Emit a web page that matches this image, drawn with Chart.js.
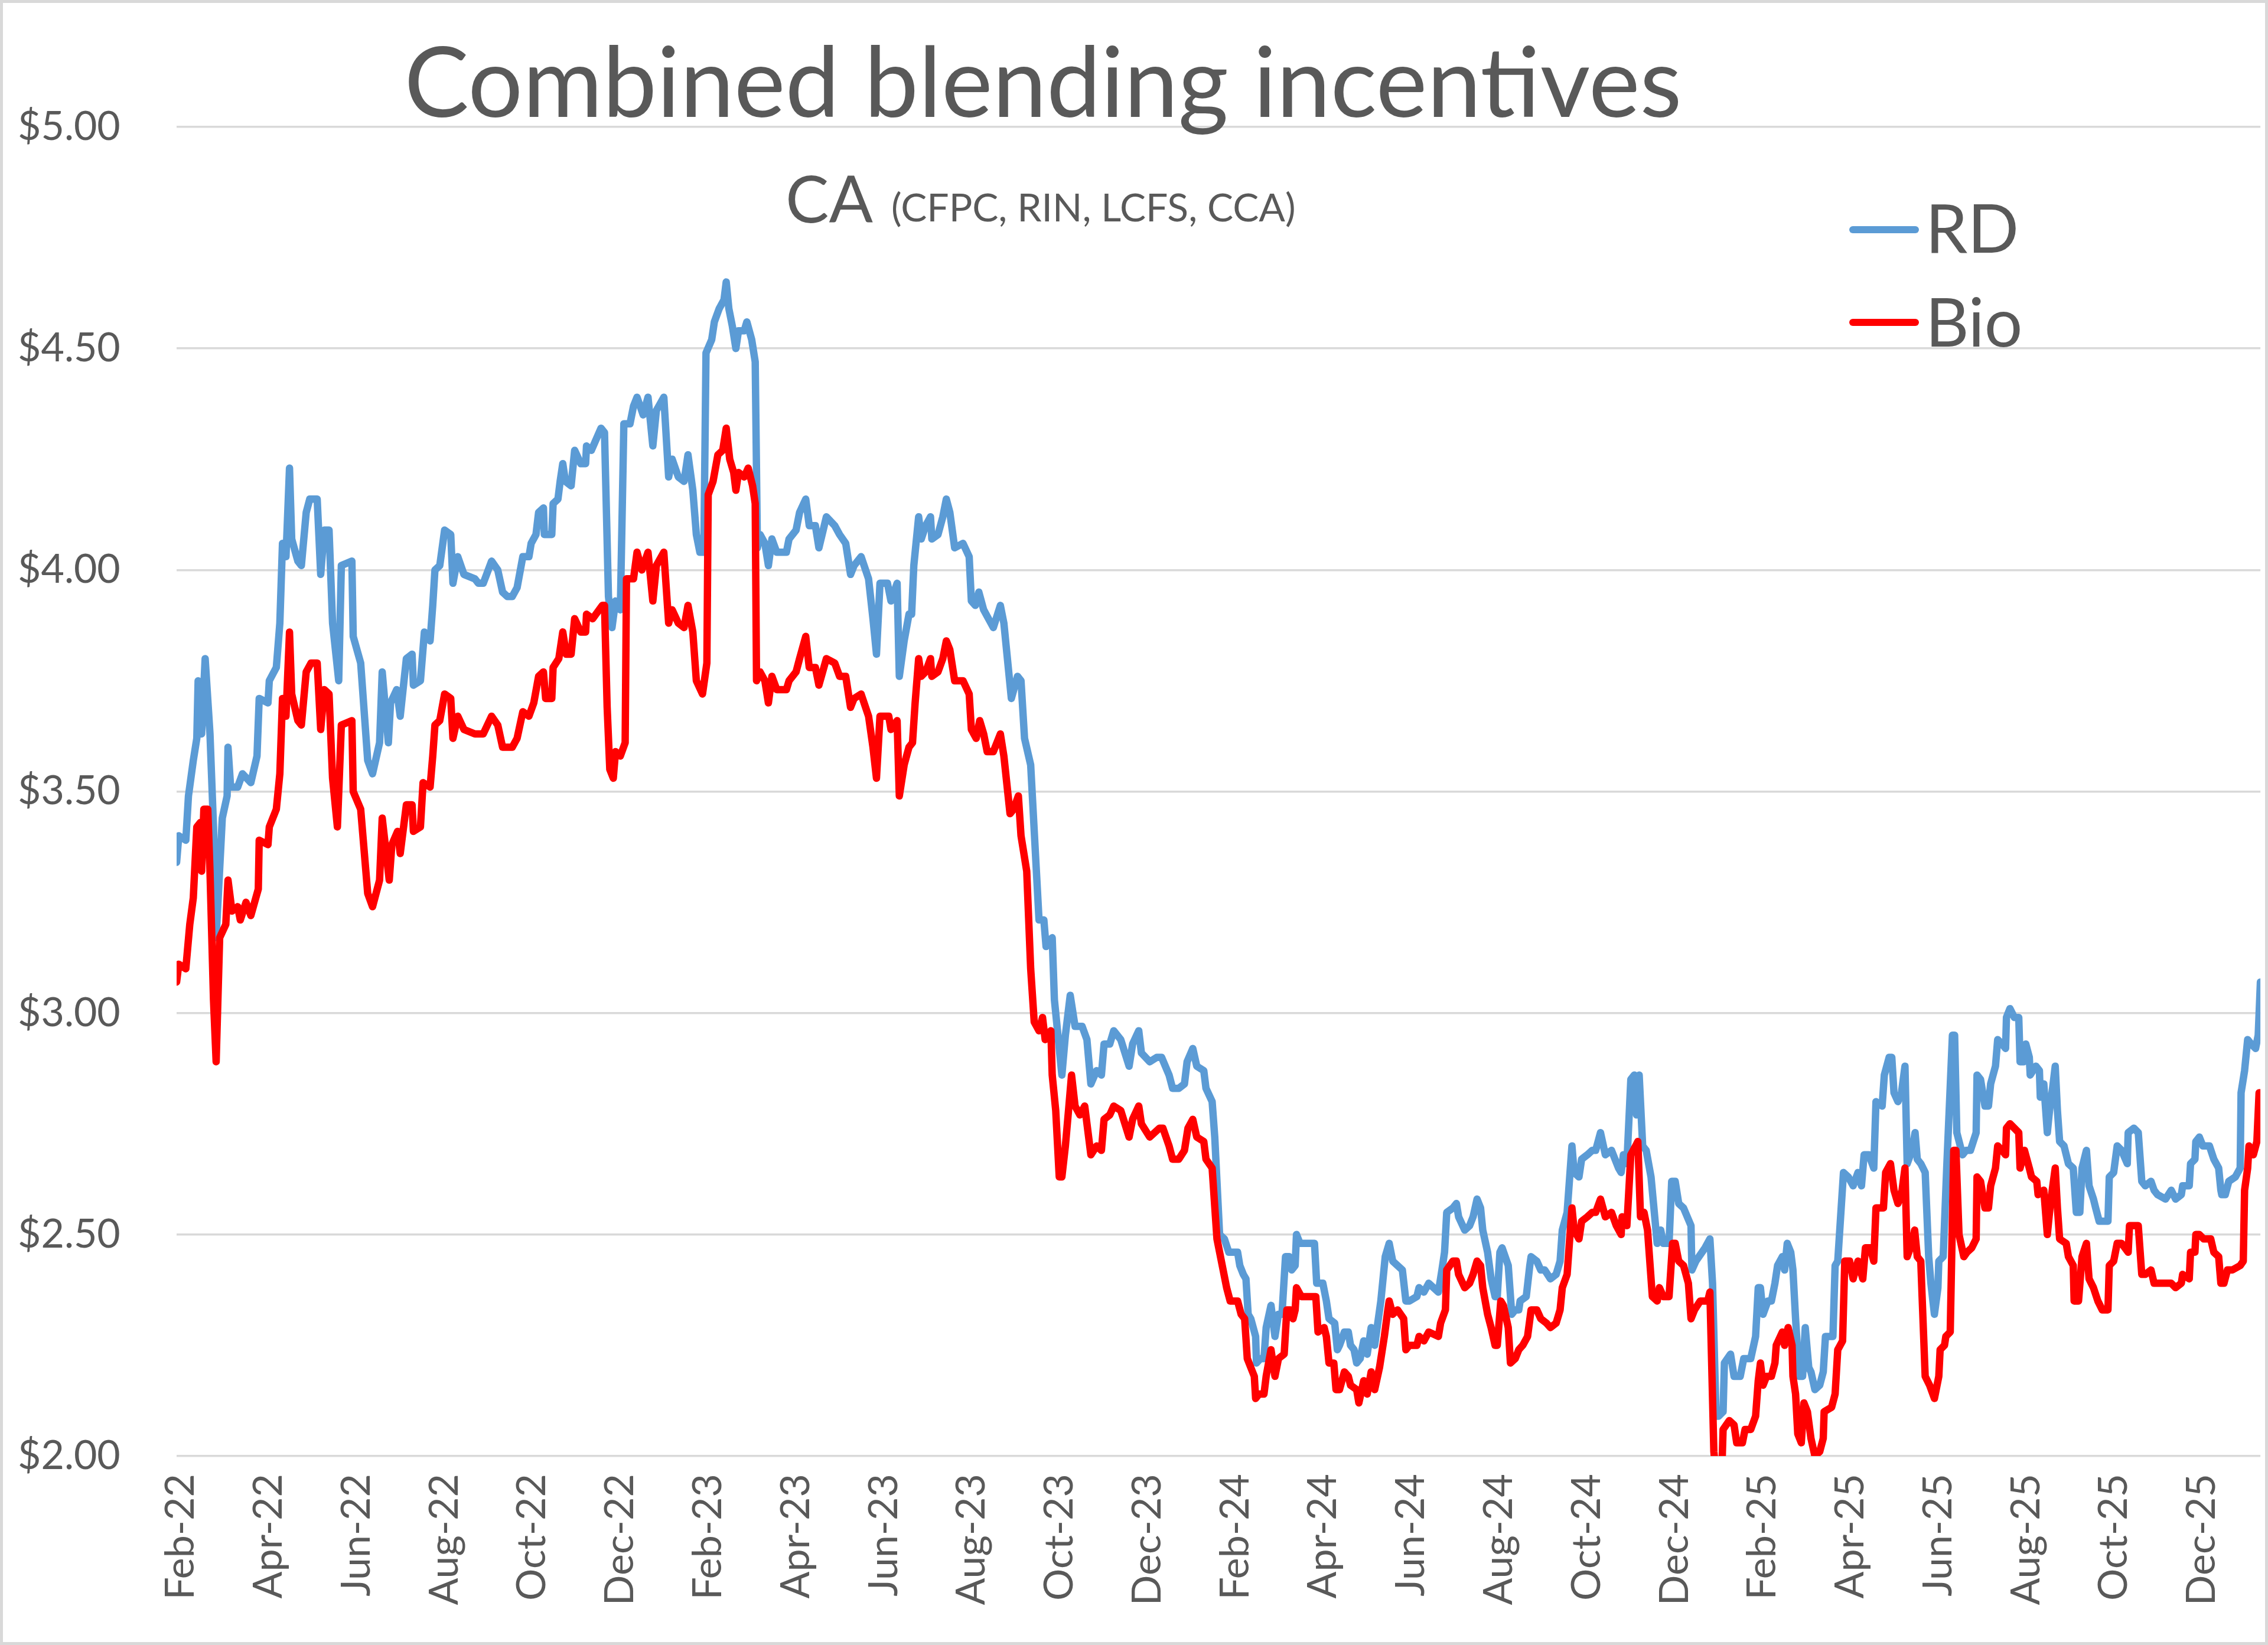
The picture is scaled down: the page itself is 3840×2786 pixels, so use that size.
<!DOCTYPE html>
<html>
<head>
<meta charset="utf-8">
<script src="https://cdn.jsdelivr.net/npm/chart.js@4.4.1/dist/chart.umd.min.js"></script>
<style>
html,body{margin:0;padding:0;background:#ffffff;}
canvas{display:block;}
</style>
</head>
<body>
<canvas id="chart" width="3840" height="2786" style="width:3840px;height:2786px"></canvas>
<script>
// ---- Text ----
const titleText = 'Combined blending incentives';
const subtitleMain = 'CA';
const subtitleSmall = '(CFPC, RIN, LCFS, CCA)';
const seriesNames = ['RD', 'Bio'];

// ---- X axis: months since Feb-2022 ----
const tickMonths = [0,2,4,6,8,10,12,14,16,18,20,22,24,26,28,30,32,34,36,38,40,42,44,46];
const tickLabels = ['Feb-22','Apr-22','Jun-22','Aug-22','Oct-22','Dec-22','Feb-23','Apr-23','Jun-23','Aug-23',
  'Oct-23','Dec-23','Feb-24','Apr-24','Jun-24','Aug-24','Oct-24','Dec-24','Feb-25','Apr-25','Jun-25','Aug-25','Oct-25','Dec-25'];
const yTicks = [2.0,2.5,3.0,3.5,4.0,4.5,5.0];

// ---- RD series ----
const rdMonths = [
-0.1,-0.05,0.11,0.17,0.28,0.36,0.39,0.47,0.55,0.66,
0.74,0.80,0.94,1.05,1.07,1.13,1.29,1.40,1.59,1.73,
1.78,1.98,2.01,2.17,2.25,2.31,2.39,2.47,2.52,2.66,
2.74,2.85,2.93,3.10,3.18,3.26,3.37,3.45,3.59,3.65,
3.89,3.92,4.09,4.25,4.36,4.52,4.58,4.72,4.77,4.91,
4.99,5.13,5.26,5.29,5.45,5.54,5.67,5.73,5.78,5.89,
6.00,6.14,6.19,6.30,6.44,6.69,6.77,6.88,7.07,7.21,
7.32,7.43,7.54,7.65,7.78,7.92,7.97,8.08,8.14,8.25,
8.27,8.44,8.47,8.58,8.63,8.69,8.75,8.88,8.96,9.10,
9.21,9.23,9.34,9.56,9.64,9.73,9.81,9.89,10.00,10.08,
10.22,10.30,10.38,10.52,10.63,10.74,10.82,10.99,11.10,11.18,
11.32,11.45,11.54,11.65,11.73,11.81,11.90,11.95,12.08,12.14,
12.25,12.36,12.41,12.47,12.55,12.63,12.69,12.82,12.88,12.99,
13.07,13.12,13.18,13.29,13.37,13.45,13.56,13.78,13.84,14.00,
14.08,14.22,14.30,14.44,14.52,14.69,14.88,14.99,15.13,15.24,
15.32,15.48,15.65,15.75,15.83,15.91,16.08,16.16,16.30,16.35,
16.46,16.57,16.63,16.68,16.79,16.85,16.95,17.06,17.09,17.23,
17.34,17.42,17.50,17.61,17.80,17.94,17.99,18.08,18.16,18.27,
18.38,18.49,18.65,18.73,18.90,19.04,19.12,19.20,19.34,19.47,
19.53,19.64,19.69,19.83,19.88,20.05,20.13,20.24,20.35,20.51,
20.62,20.71,20.84,20.95,21.01,21.14,21.23,21.39,21.58,21.66,
21.80,21.86,22.05,22.21,22.32,22.49,22.57,22.71,22.84,22.90,
23.03,23.12,23.28,23.33,23.47,23.53,23.64,23.75,23.85,23.96,
24.05,24.10,24.18,24.24,24.29,24.35,24.46,24.48,24.57,24.65,
24.70,24.81,24.90,24.98,25.06,25.14,25.22,25.28,25.36,25.39,
25.47,25.66,25.80,25.85,25.99,26.07,26.13,26.26,26.32,26.37,
26.48,26.57,26.62,26.70,26.76,26.84,26.92,27.00,27.09,27.17,
27.31,27.41,27.50,27.58,27.69,27.80,27.88,27.96,28.13,28.18,
28.29,28.40,28.62,28.70,28.76,28.81,28.95,29.03,29.08,29.22,
29.33,29.41,29.50,29.58,29.63,29.74,29.82,29.91,29.96,30.02,
30.07,30.21,30.29,30.37,30.45,30.48,30.62,30.70,30.73,30.86,
30.95,31.04,31.17,31.30,31.39,31.44,31.55,31.66,31.71,31.82,
31.88,32.01,32.12,32.20,32.31,32.42,32.56,32.64,32.72,32.78,
32.83,32.91,33.00,33.08,33.13,33.19,33.27,33.35,33.46,33.60,
33.68,33.74,33.87,33.93,34.01,34.09,34.20,34.37,34.39,34.48,
34.69,34.80,34.86,34.94,35.00,35.10,35.13,35.27,35.35,35.49,
35.57,35.73,35.84,35.90,35.95,36.01,36.12,36.20,36.28,36.34,
36.45,36.50,36.56,36.64,36.69,36.75,36.83,36.91,36.97,37.05,
37.10,37.19,37.30,37.38,37.43,37.60,37.65,37.71,37.84,37.95,
38.06,38.17,38.25,38.31,38.42,38.53,38.58,38.72,38.77,38.88,
38.94,38.99,39.08,39.16,39.24,39.29,39.40,39.47,39.52,39.60,
39.70,39.78,39.83,39.91,39.99,40.01,40.11,40.19,40.32,40.37,
40.42,40.55,40.63,40.73,40.86,40.88,40.96,41.06,41.14,41.19,
41.30,41.35,41.45,41.53,41.55,41.63,41.73,41.83,41.86,41.94,
41.99,42.07,42.09,42.22,42.30,42.32,42.40,42.48,42.53,42.60,
42.66,42.71,42.76,42.86,42.96,43.07,43.14,43.22,43.27,43.37,
43.43,43.53,43.58,43.66,43.76,43.86,43.89,43.99,44.07,44.17,
44.30,44.32,44.45,44.55,44.63,44.71,44.84,44.91,44.99,45.17,
45.30,45.40,45.53,45.56,45.71,45.74,45.84,45.86,45.94,46.02,
46.17,46.27,46.38,46.43,46.45,46.53,46.61,46.76,46.87,46.89,
46.97,47.04,47.12,47.22,47.28,47.33
];
const rdValues = [
3.34,3.40,3.39,3.49,3.57,3.62,3.75,3.63,3.80,3.63,
3.42,3.17,3.44,3.49,3.60,3.51,3.51,3.54,3.52,3.58,
3.71,3.70,3.75,3.78,3.88,4.06,4.03,4.23,4.07,4.02,
4.01,4.13,4.16,4.16,3.99,4.09,4.09,3.88,3.75,4.01,
4.02,3.85,3.79,3.57,3.54,3.61,3.77,3.61,3.70,3.73,
3.67,3.80,3.81,3.74,3.75,3.86,3.84,3.92,4.00,4.01,
4.09,4.08,3.97,4.03,3.99,3.98,3.97,3.97,4.02,4.00,
3.95,3.94,3.94,3.96,4.03,4.03,4.06,4.08,4.13,4.14,
4.08,4.08,4.15,4.16,4.20,4.24,4.20,4.19,4.27,4.24,
4.24,4.28,4.27,4.32,4.31,3.94,3.87,3.93,3.91,4.33,
4.33,4.37,4.39,4.35,4.39,4.28,4.36,4.39,4.21,4.25,
4.21,4.20,4.26,4.18,4.08,4.04,4.04,4.49,4.52,4.56,
4.59,4.61,4.65,4.59,4.55,4.50,4.54,4.54,4.56,4.52,
4.47,4.05,4.08,4.06,4.01,4.07,4.04,4.04,4.07,4.09,
4.13,4.16,4.10,4.10,4.05,4.12,4.10,4.08,4.06,3.99,
4.01,4.03,3.98,3.89,3.81,3.97,3.97,3.93,3.97,3.76,
3.84,3.90,3.90,4.01,4.12,4.07,4.10,4.12,4.07,4.08,
4.12,4.16,4.13,4.05,4.06,4.03,3.93,3.92,3.95,3.91,
3.89,3.87,3.92,3.88,3.71,3.76,3.75,3.62,3.56,3.32,
3.21,3.21,3.15,3.17,3.03,2.86,2.95,3.04,2.97,2.97,
2.94,2.84,2.87,2.86,2.93,2.93,2.96,2.94,2.88,2.93,
2.96,2.91,2.89,2.90,2.90,2.86,2.83,2.83,2.84,2.89,
2.92,2.88,2.87,2.83,2.80,2.72,2.50,2.49,2.46,2.46,
2.46,2.43,2.41,2.40,2.32,2.31,2.27,2.21,2.22,2.22,
2.29,2.34,2.27,2.32,2.32,2.45,2.45,2.42,2.43,2.50,
2.48,2.48,2.48,2.39,2.39,2.35,2.31,2.30,2.24,2.25,
2.28,2.28,2.25,2.24,2.21,2.22,2.26,2.23,2.29,2.25,
2.35,2.45,2.48,2.44,2.43,2.42,2.35,2.35,2.36,2.38,
2.37,2.39,2.37,2.42,2.46,2.55,2.56,2.57,2.54,2.51,
2.52,2.54,2.58,2.56,2.51,2.46,2.40,2.36,2.36,2.46,
2.47,2.43,2.32,2.33,2.33,2.35,2.36,2.43,2.45,2.44,
2.42,2.42,2.40,2.41,2.44,2.51,2.55,2.70,2.64,2.63,
2.67,2.68,2.69,2.69,2.73,2.68,2.69,2.67,2.65,2.64,
2.68,2.66,2.85,2.86,2.77,2.86,2.70,2.69,2.63,2.48,
2.51,2.48,2.48,2.62,2.62,2.57,2.56,2.52,2.42,2.44,
2.47,2.49,2.39,2.09,2.09,2.10,2.21,2.23,2.18,2.18,
2.22,2.22,2.27,2.38,2.38,2.32,2.35,2.35,2.39,2.43,
2.45,2.42,2.48,2.46,2.42,2.31,2.18,2.18,2.29,2.20,
2.19,2.15,2.16,2.19,2.27,2.27,2.43,2.44,2.64,2.63,
2.61,2.64,2.61,2.68,2.68,2.65,2.80,2.79,2.86,2.90,
2.90,2.82,2.80,2.82,2.88,2.66,2.69,2.73,2.67,2.66,
2.64,2.45,2.39,2.32,2.38,2.44,2.45,2.65,2.95,2.95,
2.73,2.68,2.69,2.69,2.73,2.86,2.85,2.79,2.79,2.84,
2.88,2.94,2.93,2.92,2.99,3.01,2.99,2.99,2.89,2.89,
2.93,2.90,2.86,2.88,2.87,2.81,2.84,2.73,2.78,2.83,
2.88,2.78,2.71,2.70,2.66,2.65,2.55,2.55,2.65,2.69,
2.61,2.58,2.56,2.53,2.53,2.53,2.63,2.64,2.70,2.69,
2.66,2.73,2.74,2.73,2.62,2.61,2.62,2.60,2.59,2.58,
2.60,2.58,2.59,2.61,2.61,2.66,2.67,2.71,2.72,2.70,
2.70,2.67,2.65,2.60,2.59,2.59,2.62,2.63,2.65,2.82,
2.87,2.94,2.93,2.92,2.95,3.07
];

// ---- Bio series ----
const bioMonths = [
-0.1,-0.05,0.11,0.20,0.28,0.36,0.44,0.47,0.52,0.61,
0.66,0.74,0.80,0.88,1.02,1.07,1.16,1.29,1.35,1.48,
1.59,1.76,1.78,1.98,2.01,2.17,2.25,2.31,2.39,2.47,
2.52,2.66,2.74,2.85,2.96,3.10,3.18,3.26,3.37,3.45,
3.56,3.65,3.89,3.92,4.09,4.25,4.36,4.52,4.58,4.74,
4.80,4.93,4.99,5.13,5.26,5.29,5.45,5.51,5.67,5.73,
5.78,5.89,6.00,6.14,6.19,6.30,6.44,6.69,6.88,7.07,
7.21,7.32,7.54,7.65,7.78,7.92,8.03,8.14,8.25,8.30,
8.44,8.47,8.60,8.69,8.77,8.88,8.96,9.10,9.21,9.23,
9.37,9.59,9.64,9.70,9.76,9.84,9.89,10.00,10.11,10.14,
10.30,10.38,10.49,10.63,10.74,10.82,10.99,11.10,11.18,11.32,
11.45,11.54,11.65,11.73,11.87,11.97,12.00,12.11,12.22,12.33,
12.41,12.49,12.58,12.63,12.69,12.82,12.91,13.01,13.07,13.10,
13.18,13.29,13.37,13.45,13.56,13.78,13.84,14.00,14.08,14.22,
14.30,14.44,14.52,14.69,14.88,14.99,15.13,15.24,15.32,15.48,
15.65,15.75,15.83,15.91,16.11,16.16,16.30,16.35,16.46,16.57,
16.65,16.71,16.79,16.85,16.95,17.06,17.09,17.23,17.34,17.42,
17.50,17.61,17.80,17.94,17.99,18.10,18.18,18.27,18.35,18.49,
18.65,18.73,18.87,18.95,19.06,19.12,19.25,19.34,19.42,19.53,
19.61,19.67,19.80,19.83,19.91,19.99,20.05,20.13,20.21,20.27,
20.35,20.46,20.57,20.71,20.84,20.95,21.01,21.14,21.23,21.39,
21.58,21.66,21.80,21.86,22.05,22.27,22.35,22.49,22.57,22.71,
22.84,22.92,23.03,23.12,23.28,23.33,23.47,23.58,23.80,23.88,
24.05,24.13,24.21,24.27,24.35,24.43,24.46,24.54,24.65,24.70,
24.81,24.90,24.98,25.11,25.17,25.25,25.31,25.36,25.39,25.50,
25.66,25.83,25.88,26.02,26.07,26.13,26.24,26.29,26.37,26.48,
26.57,26.62,26.76,26.81,26.92,27.00,27.09,27.17,27.28,27.39,
27.47,27.50,27.58,27.69,27.83,27.88,27.96,28.13,28.18,28.29,
28.40,28.62,28.67,28.78,28.81,28.95,29.03,29.08,29.22,29.33,
29.41,29.50,29.58,29.63,29.74,29.82,29.91,29.96,30.04,30.10,
30.21,30.26,30.37,30.45,30.54,30.65,30.73,30.86,30.95,31.08,
31.17,31.30,31.39,31.44,31.55,31.66,31.71,31.82,31.88,32.01,
32.12,32.20,32.31,32.42,32.56,32.67,32.78,32.80,32.91,33.00,
33.11,33.16,33.22,33.30,33.38,33.49,33.60,33.65,33.74,33.87,
33.95,34.01,34.09,34.20,34.31,34.37,34.45,34.58,34.75,34.80,
34.89,34.97,35.06,35.10,35.24,35.35,35.41,35.54,35.60,35.73,
35.84,35.90,35.95,36.01,36.09,36.20,36.28,36.31,36.45,36.50,
36.58,36.67,36.69,36.75,36.80,36.88,36.94,37.02,37.10,37.19,
37.30,37.38,37.40,37.57,37.65,37.71,37.82,37.87,37.98,38.06,
38.17,38.28,38.34,38.45,38.53,38.58,38.75,38.80,38.91,38.99,
39.08,39.16,39.24,39.29,39.40,39.46,39.52,39.60,39.63,39.70,
39.80,39.91,40.01,40.04,40.14,40.17,40.27,40.35,40.40,40.47,
40.58,40.65,40.76,40.86,40.88,40.96,41.06,41.14,41.19,41.30,
41.35,41.45,41.53,41.55,41.63,41.73,41.83,41.86,41.96,42.07,
42.12,42.24,42.27,42.40,42.48,42.55,42.66,42.71,42.76,42.91,
42.96,43.07,43.09,43.19,43.27,43.37,43.43,43.53,43.63,43.73,
43.86,43.89,43.99,44.07,44.17,44.32,44.35,44.45,44.55,44.63,
44.71,44.84,44.91,45.02,45.17,45.30,45.40,45.53,45.56,45.71,
45.74,45.84,45.86,45.94,46.04,46.20,46.27,46.38,46.43,46.50,
46.58,46.69,46.87,46.94,46.97,47.04,47.07,47.17,47.25,47.30,
47.33
];
const bioValues = [
3.07,3.11,3.10,3.20,3.26,3.42,3.43,3.32,3.46,3.46,
3.32,3.03,2.89,3.17,3.20,3.30,3.23,3.24,3.21,3.25,
3.22,3.28,3.39,3.38,3.42,3.46,3.54,3.71,3.67,3.86,
3.72,3.66,3.65,3.77,3.79,3.79,3.64,3.73,3.72,3.53,
3.42,3.65,3.66,3.50,3.46,3.27,3.24,3.30,3.44,3.30,
3.38,3.41,3.36,3.47,3.47,3.41,3.42,3.52,3.51,3.58,
3.65,3.66,3.72,3.71,3.62,3.67,3.64,3.63,3.63,3.67,
3.65,3.60,3.60,3.62,3.68,3.67,3.70,3.76,3.77,3.71,
3.71,3.78,3.80,3.86,3.81,3.81,3.89,3.86,3.86,3.90,
3.89,3.92,3.92,3.69,3.55,3.53,3.59,3.58,3.61,3.98,
3.98,4.04,4.00,4.04,3.93,4.01,4.04,3.88,3.91,3.88,
3.87,3.92,3.86,3.75,3.72,3.79,4.17,4.20,4.26,4.27,
4.32,4.25,4.22,4.18,4.22,4.21,4.23,4.19,4.15,3.75,
3.77,3.75,3.70,3.76,3.73,3.73,3.75,3.77,3.80,3.85,
3.78,3.78,3.74,3.80,3.79,3.76,3.76,3.69,3.71,3.72,
3.67,3.60,3.53,3.67,3.67,3.64,3.66,3.49,3.56,3.60,
3.61,3.70,3.80,3.76,3.77,3.80,3.76,3.77,3.80,3.84,
3.82,3.75,3.75,3.72,3.64,3.62,3.66,3.63,3.59,3.59,
3.63,3.58,3.45,3.46,3.49,3.40,3.32,3.10,2.98,2.96,
2.99,2.94,2.96,2.86,2.78,2.63,2.63,2.70,2.79,2.86,
2.79,2.77,2.79,2.68,2.70,2.69,2.76,2.77,2.79,2.78,
2.72,2.76,2.79,2.75,2.72,2.74,2.74,2.70,2.67,2.67,
2.69,2.74,2.76,2.72,2.71,2.67,2.65,2.49,2.38,2.35,
2.35,2.32,2.31,2.22,2.20,2.18,2.13,2.14,2.14,2.18,
2.24,2.18,2.22,2.23,2.33,2.33,2.31,2.33,2.38,2.36,
2.36,2.36,2.28,2.29,2.27,2.21,2.21,2.15,2.15,2.19,
2.18,2.16,2.15,2.12,2.17,2.14,2.19,2.15,2.20,2.27,
2.33,2.35,2.32,2.33,2.31,2.24,2.25,2.25,2.27,2.26,
2.28,2.27,2.30,2.33,2.42,2.44,2.44,2.41,2.38,2.39,
2.41,2.44,2.43,2.38,2.32,2.29,2.25,2.25,2.35,2.34,
2.29,2.21,2.22,2.24,2.25,2.27,2.33,2.33,2.31,2.30,
2.29,2.30,2.33,2.38,2.41,2.56,2.51,2.49,2.53,2.54,
2.55,2.55,2.58,2.54,2.55,2.52,2.50,2.54,2.52,2.68,
2.70,2.71,2.54,2.55,2.51,2.36,2.35,2.38,2.36,2.36,
2.48,2.48,2.44,2.43,2.39,2.31,2.33,2.35,2.35,2.37,
2.01,1.93,1.93,2.06,2.08,2.07,2.03,2.03,2.06,2.06,
2.09,2.17,2.21,2.16,2.18,2.18,2.21,2.25,2.28,2.25,
2.29,2.25,2.18,2.14,2.05,2.03,2.12,2.10,2.04,2.00,
2.01,2.04,2.10,2.11,2.14,2.24,2.26,2.44,2.44,2.40,
2.44,2.40,2.47,2.47,2.44,2.56,2.56,2.64,2.66,2.60,
2.57,2.59,2.65,2.45,2.48,2.51,2.45,2.44,2.36,2.18,
2.16,2.13,2.18,2.24,2.25,2.27,2.28,2.69,2.69,2.50,
2.45,2.46,2.47,2.49,2.63,2.62,2.56,2.56,2.61,2.65,
2.70,2.69,2.68,2.74,2.75,2.74,2.73,2.65,2.69,2.65,
2.63,2.62,2.59,2.60,2.50,2.57,2.65,2.56,2.49,2.48,
2.45,2.43,2.35,2.35,2.45,2.48,2.40,2.38,2.35,2.33,
2.33,2.43,2.44,2.48,2.48,2.46,2.52,2.52,2.52,2.41,
2.41,2.42,2.39,2.39,2.39,2.39,2.38,2.39,2.41,2.40,
2.46,2.46,2.50,2.50,2.49,2.49,2.46,2.45,2.39,2.39,
2.42,2.42,2.43,2.44,2.60,2.65,2.70,2.68,2.71,2.82,
2.82
];

// ---- Styling ----
const FONT = 'Lato, "Open Sans", "Noto Sans", sans-serif';
const GREY = '#595959';
const RD_COLOR = '#5B9BD5';
const BIO_COLOR = '#FF0000';

const toPoints = (xs, ys) => xs.map((m, i) => ({ x: m, y: ys[i] }));

const decor = {
  id: 'decor',
  beforeDraw(chart) {
    const c = chart.ctx;
    c.save();
    c.fillStyle = '#ffffff';
    c.fillRect(0, 0, chart.width, chart.height);
    c.restore();
  },
  afterDraw(chart) {
    const c = chart.ctx;
    c.save();
    c.fillStyle = GREY;
    c.textBaseline = 'alphabetic';
    // Title
    c.font = '164px ' + FONT;
    c.textAlign = 'center';
    c.fillText(titleText, 1766, 198);
    // Subtitle
    c.textAlign = 'left';
    c.font = '110px ' + FONT;
    c.fillText(subtitleMain, 1330, 377);
    c.font = '66px ' + FONT;
    c.fillText(subtitleSmall, 1509, 375);
    // Legend
    const legend = [
      { name: seriesNames[0], color: RD_COLOR, y: 389, base: 428 },
      { name: seriesNames[1], color: BIO_COLOR, y: 546, base: 587 }
    ];
    legend.forEach(it => {
      c.strokeStyle = it.color;
      c.lineWidth = 12;
      c.lineCap = 'round';
      c.beginPath();
      c.moveTo(3137, it.y);
      c.lineTo(3243, it.y);
      c.stroke();
      c.fillStyle = GREY;
      c.font = '114px ' + FONT;
      c.fillText(it.name, 3260, it.base);
    });
    // Outer border
    c.strokeStyle = '#D9D9D9';
    c.lineWidth = 5;
    c.strokeRect(2.5, 2.5, chart.width - 5, chart.height - 5);
    c.restore();
  }
};

new Chart(document.getElementById('chart').getContext('2d'), {
  type: 'line',
  data: {
    datasets: [
      {
        label: seriesNames[0],
        data: toPoints(rdMonths, rdValues),
        borderColor: RD_COLOR,
        backgroundColor: RD_COLOR,
        borderWidth: 12.5,
        pointRadius: 0,
        tension: 0,
        borderJoinStyle: 'round',
        borderCapStyle: 'round',
        order: 2
      },
      {
        label: seriesNames[1],
        data: toPoints(bioMonths, bioValues),
        borderColor: BIO_COLOR,
        backgroundColor: BIO_COLOR,
        borderWidth: 12.5,
        pointRadius: 0,
        tension: 0,
        borderJoinStyle: 'round',
        borderCapStyle: 'round',
        order: 1
      }
    ]
  },
  options: {
    responsive: false,
    animation: false,
    devicePixelRatio: 1,
    layout: { padding: { left: 30, right: 7, top: 215, bottom: 0 } },
    plugins: {
      legend: { display: false },
      title: { display: false },
      tooltip: { enabled: false }
    },
    scales: {
      x: {
        type: 'linear',
        min: -0.1,
        max: 47.33,
        grid: { display: false, drawTicks: false },
        border: { display: false },
        afterBuildTicks: s => { s.ticks = tickMonths.map(v => ({ value: v })); },
        afterFit: s => { s.height = 320; },
        ticks: {
          autoSkip: false,
          minRotation: 90,
          maxRotation: 90,
          padding: 30,
          color: GREY,
          font: { family: FONT, size: 68 },
          callback: v => tickLabels[tickMonths.indexOf(v)]
        }
      },
      y: {
        min: 2,
        max: 5,
        afterBuildTicks: s => { s.ticks = yTicks.map(v => ({ value: v })); },
        afterFit: s => { s.width = 269; },
        grid: { color: '#D9D9D9', lineWidth: 3.5, drawTicks: false },
        border: { display: false },
        ticks: {
          crossAlign: 'far',
          padding: 0,
          color: GREY,
          font: { family: FONT, size: 68 },
          callback: v => '$' + Number(v).toFixed(2)
        }
      }
    }
  },
  plugins: [decor]
});
</script>
</body>
</html>
